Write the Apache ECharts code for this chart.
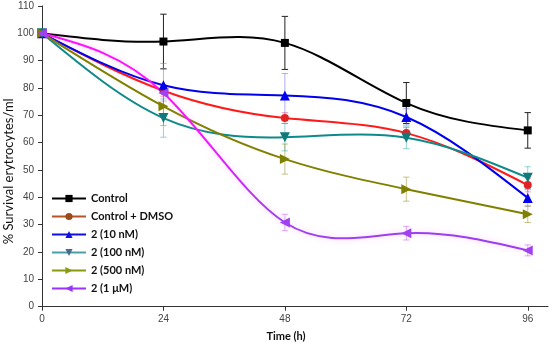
<!DOCTYPE html>
<html><head><meta charset="utf-8">
<script src="https://cdn.jsdelivr.net/npm/echarts@6/dist/echarts.min.js"></script>
<style>html,body{margin:0;padding:0;background:#fff}#c{width:550px;height:344px}</style>
</head><body><div id="c"></div>
<script>
const times = [0, 24, 48, 72, 96];
const xTicks = [0, 24, 48, 72, 96];
const names = ['Control', 'Control + DMSO', '2 (10 nM)', '2 (100 nM)', '2 (500 nM)', '2 (1 μM)'];
const control = [100, 97, 96.5, 74.5, 64.5];
const controlErr = [0, 10, 9.7, 7.5, 6.5];
const dmso = [100, 79, 69, 63.5, 44.5];
const dmsoErr = [0, 2, 2, 2, 2.5];
const nm10 = [100, 81, 77.3, 69.4, 39.8];
const nm10Err = [0, 8, 8, 3, 3];
const nm100 = [100, 69, 62, 61.8, 47.2];
const nm100Err = [0, 7, 5, 4, 4];
const nm500 = [100, 73.3, 54, 43, 33.8];
const nm500Err = [0, 7, 5.5, 4.4, 3];
const um1 = [100, 78.2, 30.8, 26.9, 20.6];
const um1Err = [0, 3, 3, 2.5, 2];

const seriesVals = [control, dmso, nm10, nm100, nm500, um1];
const seriesErrs = [controlErr, dmsoErr, nm10Err, nm100Err, nm500Err, um1Err];

const lineColors = ['#000000', '#ff1a1a', '#0000ee', '#0e8a8a', '#808000', null];
const markColors = ['#000000', '#e02424', '#0000ee', '#0e7a7a', '#808000', '#a040f0'];
const errColors = ['#222222', 'rgba(240,80,120,0.55)', 'rgba(110,110,240,0.55)', 'rgba(40,170,170,0.5)', 'rgba(140,140,30,0.5)', 'rgba(200,80,230,0.5)'];
const legendLine = ['#000000', '#b5542a', '#1010e0', '#4aa0a8', '#8a9a10', '#9933ff'];
const legendMark = ['#000000', '#9b4a1a', '#1010e0', '#4a6a90', '#8a9a10', '#9933ff'];
const symbols = ['rect', 'circle', 'triangle', 'path://M0,0 L10,0 L5,9 Z', 'path://M0,0 L9,5 L0,10 Z', 'path://M9,0 L0,5 L9,10 Z'];
const symSizes = [8, 8, 10, 10, 10, 10];

function magentaGrad() {
  return new echarts.graphic.LinearGradient(0, 0, 1, 0, [
    {offset: 0, color: '#ff10ff'}, {offset: 0.32, color: '#ff10ff'},
    {offset: 0.47, color: '#a040f0'}, {offset: 1, color: '#9a3cf0'}]);
}

// natural cubic spline through pixel points -> SVG path with bezier segments
function splinePath(pts) {
  const n = pts.length;
  const h = [];
  for (let i = 0; i < n - 1; i++) h.push(pts[i + 1][0] - pts[i][0]);
  const M = new Array(n).fill(0);
  const a = [], b = [], c = [], r = [];
  for (let i = 1; i < n - 1; i++) {
    a.push(h[i - 1]); b.push(2 * (h[i - 1] + h[i])); c.push(h[i]);
    r.push(6 * ((pts[i + 1][1] - pts[i][1]) / h[i] - (pts[i][1] - pts[i - 1][1]) / h[i - 1]));
  }
  const m = r.length;
  for (let i = 1; i < m; i++) {
    const w = a[i] / b[i - 1];
    b[i] -= w * c[i - 1]; r[i] -= w * r[i - 1];
  }
  const sol = new Array(m);
  for (let i = m - 1; i >= 0; i--) sol[i] = (r[i] - (i < m - 1 ? c[i] * sol[i + 1] : 0)) / b[i];
  for (let i = 0; i < m; i++) M[i + 1] = sol[i];
  let p = 'M' + pts[0][0] + ',' + pts[0][1];
  for (let i = 0; i < n - 1; i++) {
    const hi = h[i], dy = pts[i + 1][1] - pts[i][1];
    const s0 = dy / hi - hi * (2 * M[i] + M[i + 1]) / 6;
    const s1 = dy / hi + hi * (M[i] + 2 * M[i + 1]) / 6;
    const c1x = pts[i][0] + hi / 3, c1y = pts[i][1] + s0 * hi / 3;
    const c2x = pts[i + 1][0] - hi / 3, c2y = pts[i + 1][1] - s1 * hi / 3;
    p += ' C' + c1x + ',' + c1y + ' ' + c2x + ',' + c2y + ' ' + pts[i + 1][0] + ',' + pts[i + 1][1];
  }
  return p;
}

const series = [];
seriesVals.forEach((vals, i) => {
  const err = seriesErrs[i];
  series.push({
    type: 'custom', silent: true, z: 1,
    data: times.map((t, k) => [t, vals[k] - err[k], vals[k] + err[k]]).filter((d, k) => err[k] > 0),
    renderItem: function (params, api) {
      const x = api.value(0);
      const lo = api.coord([x, api.value(1)]);
      const hi = api.coord([x, api.value(2)]);
      const w = 3.2;
      const st = {stroke: errColors[i], lineWidth: 1, fill: null};
      return {type: 'group', children: [
        {type: 'line', shape: {x1: lo[0], y1: lo[1], x2: hi[0], y2: hi[1]}, style: st},
        {type: 'line', shape: {x1: lo[0] - w, y1: lo[1], x2: lo[0] + w, y2: lo[1]}, style: st},
        {type: 'line', shape: {x1: hi[0] - w, y1: hi[1], x2: hi[0] + w, y2: hi[1]}, style: st}
      ]};
    }
  });
});
// spline curves drawn through the data points via the axis scales
seriesVals.forEach((vals, i) => {
  series.push({
    type: 'custom', silent: true, z: 3 + i,
    data: [[times[0], vals[0]]],
    renderItem: function (params, api) {
      const pts = times.map((t, k) => api.coord([t, vals[k]]));
      const style = {stroke: i === 5 ? magentaGrad() : lineColors[i], lineWidth: 2, fill: null};
      if (i === 5) { style.shadowColor = 'rgba(255,120,255,0.4)'; style.shadowBlur = 6; }
      return {type: 'path', shape: {pathData: splinePath(pts)}, style: style};
    }
  });
});
// markers (and legend entries)
seriesVals.forEach((vals, i) => {
  series.push({
    name: names[i], type: 'line', z: 10 + i,
    data: times.map((t, k) => [t, vals[k]]),
    symbol: symbols[i], symbolSize: symSizes[i],
    lineStyle: {width: 2, color: legendLine[i], opacity: 0},
    itemStyle: {color: markColors[i]},
    emphasis: {disabled: true}
  });
});

const chart = echarts.init(document.getElementById('c'));
chart.setOption({
  animation: false,
  backgroundColor: '#ffffff',
  grid: {left: 42, right: 2, top: 6, bottom: 37.3, outerBoundsMode: 'none', containLabel: false},
  legend: {
    orient: 'vertical', left: 46, top: 188, itemWidth: 34, itemHeight: 9, itemGap: 7,
    textStyle: {fontFamily: 'Lato', fontWeight: 'bold', fontSize: 11, color: '#111'},
    data: names.map((n, i) => ({name: n, itemStyle: {color: legendMark[i]}, lineStyle: {color: legendLine[i], width: 2, opacity: 1}}))
  },
  xAxis: {
    type: 'value', min: 0, max: 100,
    name: 'Time (h)', nameLocation: 'middle', nameGap: 24, nameMoveOverlap: false,
    nameTextStyle: {fontFamily: 'Lato', fontWeight: 'bold', fontSize: 11, color: '#111', padding: [0, 18, 0, 0]},
    axisLine: {show: true, lineStyle: {color: '#333', width: 1}},
    axisTick: {show: true, length: 4, customValues: xTicks, lineStyle: {color: '#333'}},
    axisLabel: {customValues: xTicks, fontFamily: 'Liberation Sans', fontSize: 10, color: '#444', margin: 8},
    splitLine: {show: false}
  },
  yAxis: {
    type: 'value', min: 0, max: 110, interval: 10,
    name: '% Survival erytrocytes/ml', nameLocation: 'middle', nameGap: 27, nameMoveOverlap: false,
    nameTextStyle: {fontFamily: 'Lato', fontSize: 13, color: '#111', padding: [0, 30, 0, 0]},
    axisLine: {show: true, lineStyle: {color: '#333', width: 1}},
    axisTick: {show: true, length: 4, lineStyle: {color: '#333'}},
    axisLabel: {fontFamily: 'Liberation Sans', fontSize: 10, color: '#444', margin: 8},
    splitLine: {show: false}
  },
  series: series
});
</script></body></html>
